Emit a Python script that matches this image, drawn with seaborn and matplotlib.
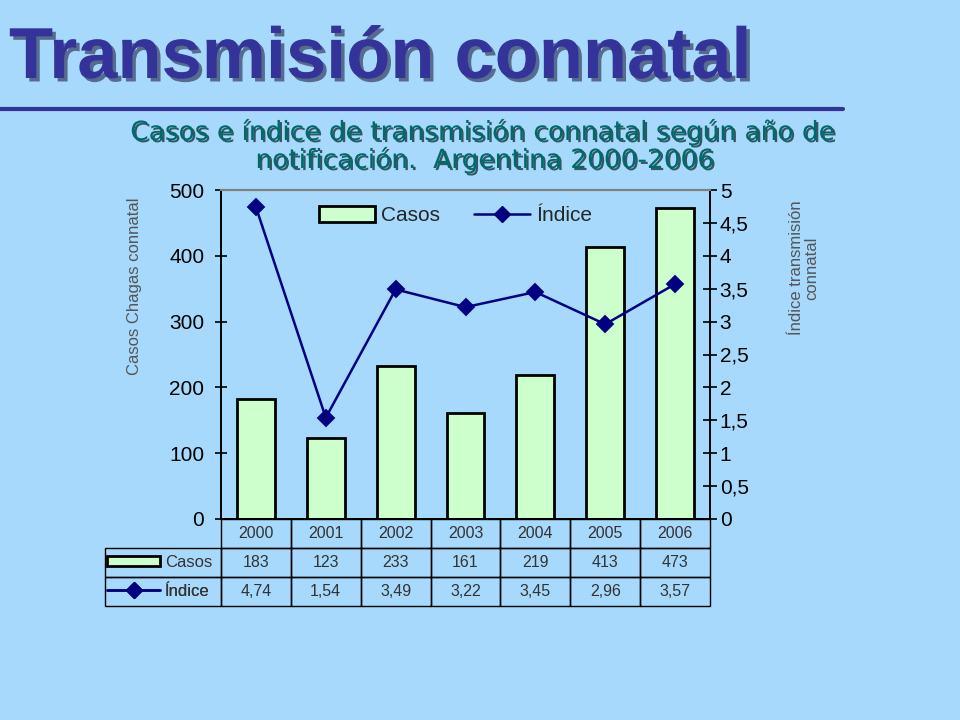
import numpy as np
import matplotlib
matplotlib.use("Agg")
import matplotlib.pyplot as plt
import matplotlib.patheffects as pe
from matplotlib.patches import Patch
from matplotlib.lines import Line2D
import seaborn as sns

# datos
years = ['2000', '2001', '2002', '2003', '2004', '2005', '2006']
casos = [183, 123, 233, 161, 219, 413, 473]
indice = [4.74, 1.54, 3.49, 3.22, 3.45, 2.96, 3.57]

bg = '#A6D9FB'
bar_col = '#CCFFCC'
line_col = '#000080'

sns.set_style("ticks")
plt.rcParams['font.family'] = ['Liberation Sans', 'DejaVu Sans']

fig = plt.figure(figsize=(9.6, 7.2), dpi=100, facecolor=bg)

# ejes en pixeles de la figura
L, R, T, B = 221, 710, 190, 519
ax = fig.add_axes([L / 960, 1 - B / 720, (R - L) / 960, (B - T) / 720])
ax.set_facecolor('none')

sns.barplot(x=years, y=casos, ax=ax, color=bar_col, width=0.54,
            edgecolor='black', linewidth=2, saturation=1)
ax.set_ylim(0, 500)
ax.set_yticks(range(0, 501, 100))
ax.set_xlim(-0.5, 6.5)

ax2 = ax.twinx()
sns.pointplot(x=years, y=indice, ax=ax2, color=line_col, markers='D',
              markersize=8, linewidth=1.8, errorbar=None)
ax2.set_ylim(0, 5)
ax2.set_yticks(np.arange(0, 5.01, 0.5))
ax2.set_yticklabels([('%g' % v).replace('.', ',') for v in np.arange(0, 5.01, 0.5)])
ax2.set_xlim(-0.5, 6.5)

for a in (ax, ax2):
    a.set_xlabel('')
    a.set_ylabel('')
    a.tick_params(axis='x', length=0, labelbottom=False)
    for s in a.spines.values():
        s.set_visible(True)
        s.set_color('black')
        s.set_linewidth(1.2)
    a.spines['top'].set_color('#808080')
    a.spines['top'].set_linewidth(1.5)

ax.tick_params(axis='y', direction='inout', length=8, width=1.2, pad=8,
               labelsize=15, colors='black')
ax2.tick_params(axis='y', direction='inout', length=10, width=1.2, pad=2,
                labelsize=15, colors='black')

# leyenda superior
handles = [Patch(facecolor=bar_col, edgecolor='black', linewidth=2),
           Line2D([], [], color=line_col, lw=1.8, marker='D', markersize=8)]
leg = ax2.legend(handles, ['Casos', 'Índice'], ncol=2, frameon=False,
                 loc='upper left', bbox_to_anchor=(0.162, 1.008), fontsize=15,
                 handlelength=2.7, handleheight=0.8, handletextpad=0.3,
                 columnspacing=1.6)

# tabla de datos
casos_txt = [str(v) for v in casos]
indice_txt = [('%.2f' % v).replace('.', ',') for v in indice]
tab_left = 105
lab_w = L - tab_left
slot = (R - L) / 7
tab_bottom = 606
tbl = ax2.table(cellText=[[''] + casos_txt, [''] + indice_txt],
                colLabels=[''] + years,
                colWidths=[lab_w] + [slot] * 7,
                cellLoc='center', colLoc='center',
                bbox=[(tab_left - L) / (R - L), (B - tab_bottom) / (B - T),
                      (R - tab_left) / (R - L), (tab_bottom - B) / (B - T)])
tbl.auto_set_font_size(False)
tbl.set_fontsize(11.5)
for (r, c), cell in tbl.get_celld().items():
    cell.set_facecolor('none')
    cell.set_edgecolor('black')
    cell.set_linewidth(1)
    cell.get_text().set_color('#333333')
tbl[0, 0].visible_edges = 'open'

# leyendas dentro de la tabla
row_h = (tab_bottom - B) / 3
for i, (h, lab) in enumerate(zip(handles, ['Casos', 'Índice'])):
    yc = B + row_h * (1.5 + i)
    lg = ax2.legend([h], [lab], frameon=False, loc='center left',
                    bbox_to_anchor=((tab_left + 2 - L) / (R - L), (B - yc) / (B - T)),
                    fontsize=12, handlelength=3.2, handleheight=0.6,
                    handletextpad=0.3, borderpad=0, borderaxespad=0)
    for t in lg.get_texts():
        t.set_color('#333333')
    ax2.add_artist(lg)
ax2.add_artist(leg)

# etiquetas de ejes
fig.text(135 / 960, 1 - 286 / 720, 'Casos Chagas connatal', rotation=90,
         ha='center', va='center', fontsize=12, color='#555555')
fig.text(804 / 960, 1 - 268 / 720, 'Índice transmisión\nconnatal', rotation=90,
         ha='center', va='center', fontsize=12, color='#555555',
         multialignment='center', linespacing=1.0)

# titulos
fig.text(9 / 960, 1 - 78 / 720, 'Transmisión connatal', ha='left', va='baseline',
         fontsize=52, fontweight='bold', color='#333399',
         path_effects=[pe.SimplePatchShadow(offset=(2.5, -2.5), shadow_rgbFace='#222244', alpha=0.6),
                       pe.Normal()])
fig.add_artist(Line2D([0, 843 / 960], [1 - 109 / 720] * 2, lw=3, color='#333399'))
sub_fx = [pe.SimplePatchShadow(offset=(1.5, -1.5), shadow_rgbFace='#002222', alpha=0.7),
          pe.Normal()]
fig.text(483 / 960, 1 - 140 / 720, 'Casos e índice de transmisión connatal según año de',
         ha='center', va='baseline', fontsize=19, color='#006a6a',
         family=['DejaVu Sans'], path_effects=sub_fx)
fig.text(485 / 960, 1 - 168 / 720, 'notificación.  Argentina 2000-2006',
         ha='center', va='baseline', fontsize=19, color='#006a6a',
         family=['DejaVu Sans'], path_effects=sub_fx)

fig.savefig('out.png', dpi=100, facecolor=bg)
